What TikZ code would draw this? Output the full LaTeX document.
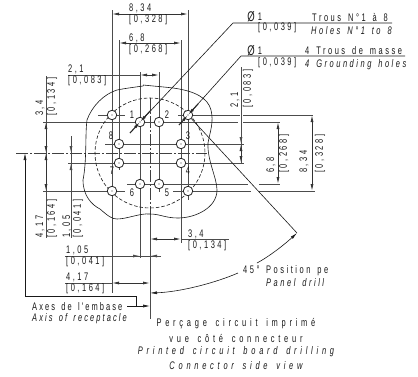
\documentclass[tikz,border=0pt]{standalone}
\usepackage{fontspec}
\setmainfont[FakeStretch=0.68,LetterSpace=23,WordSpace=1.5]{Liberation Sans}
\newfontfamily\titlefont[FakeStretch=0.68,LetterSpace=34,WordSpace=1.5]{Liberation Sans}
\newfontfamily\axisfont[FakeStretch=0.68,LetterSpace=19,WordSpace=1.5]{Liberation Sans}
\usetikzlibrary{positioning,arrows.meta}
\begin{document}
\begin{tikzpicture}[x=1pt,y=-1pt,
  every node/.style={font=\fontsize{11pt}{12pt}\selectfont, inner sep=0pt, text=black!90},
  holemark/.style={circle, draw=black!85, fill=white, line width=0.8pt, minimum size=9.5pt},
  ext/.style={draw=black!70, line width=0.9pt},
  dim/.style={draw=black!80, line width=0.8pt, {Latex[length=7pt,width=3pt]}-{Latex[length=7pt,width=3pt]}},
  thinline/.style={draw=black!90, line width=0.6pt},
  axisline/.style={draw=black!75, line width=0.8pt, dash pattern=on 12pt off 2pt on 2pt off 2pt},
  num/.style={anchor=west},
  vnum/.style={rotate=90, anchor=west},
  tip/.style={-{Latex[length=7pt,width=3pt]}}]
\useasboundingbox (0,0) rectangle (418,376);

% extension lines, vertical
\draw[ext] (112,10) -- (112,293);
\draw[ext] (188,10) -- (188,200);
\draw[ext] (119,40) -- (119,170);
\draw[ext] (181,40) -- (181,243);
\draw[ext] (140,72) -- (140,258);
\draw[ext] (159,72) -- (159,192);

% extension lines, horizontal
\draw[ext] (98,115) -- (125,115);
\draw[ext] (178,115) -- (240,115);
\draw[ext] (243,115) -- (313,115);
\draw[ext] (43,122) -- (238,122);
\draw[ext] (243,122) -- (280,122);
\draw[ext] (105,144) -- (244,144);
\draw[ext] (68,163) -- (244,163);
\draw[ext] (127,184) -- (248,184);
\draw[ext] (259,184) -- (280,184);
\draw[ext] (43,191) -- (125,191);
\draw[ext] (173,191) -- (251,191);
\draw[ext] (259,191) -- (315,191);

% axes
\draw[axisline] (16,153) -- (207,153);
\draw[axisline] (150,98) -- (150,215);
\draw[ext] (150,215) -- (150,319);

% outline and drill circle
\draw[thinline] (143,86) .. controls (128,88) and (122,89) .. (117,90)
  .. controls (104,94) and (92,106) .. (87,120)
  .. controls (85,135) and (87,160) .. (83,180)
  .. controls (83,196) and (92,205) .. (100,209)
  .. controls (108,216) and (112,219) .. (117,219)
  .. controls (127,219) and (140,213) .. (150,214)
  .. controls (160,214) and (165,218) .. (178,218)
  .. controls (195,218) and (217,208) .. (217,190)
  .. controls (217,178) and (207,160) .. (208,143)
  .. controls (210,132) and (214,122) .. (211,110)
  .. controls (208,98) and (195,91) .. (173,88)
  .. controls (165,87) and (152,86) .. (143.5,85)
  -- cycle;
\draw[thinline, dash pattern=on 3.5pt off 2pt] (150,153) circle[radius=55];

% holes
\foreach \nam/\xx/\yy in {g1/112/115,g2/188/115,g3/188/191,g4/112/191,
  h1/140/122,h2/159/122,h3/181/144,h4/181/163,h5/159/184,h6/140/184,h7/119/163,h8/119/144}
  {\node[holemark] (\nam) at (\xx,\yy) {};
   \fill[black!80] (\nam) circle[radius=0.7];}

% hole numbers
\node at (132,115) {1};
\node at (167,115) {2};
\node at (188,136) {3};
\node at (188,171) {4};
\node at (167,193) {5};
\node at (132,193) {6};
\node at (112,171) {7};
\node at (111,136) {8};

% top dimensions
\draw[dim] (112,14) -- (188,14);
\node[num] at (129,8) {8,34};
\node[num] at (129,20) {[0,328]};
\draw[dim] (119,43) -- (181,43);
\node[num] at (129,38) {6,8};
\node[num] at (129,50) {[0,268]};
\draw[ext] (68,75) -- (140,75);
\draw[dim] (140,75) -- (159,75);
\node[num] at (68,69) {2,1};
\node[num] at (68,81) {[0,083]};

% left dimensions
\draw[ext] (46,76) -- (46,238);
\draw[dim] (46,122) -- (46,153);
\draw[dim] (46,191) -- (46,153);
\node[vnum] at (40,116) {3,4};
\node[vnum] at (52,116) {[0,134]};
\node[vnum] at (40,238) {4,17};
\node[vnum] at (52,238) {[0,164]};
\draw[ext] (71,142) -- (71,238);
\draw[ext,tip] (71,136) -- (71,153);
\draw[ext,tip] (71,180) -- (71,163);
\node[vnum] at (67,238) {1,05};
\node[vnum] at (78,238) {[0,041]};

% bottom dimensions
\draw[dim] (150,239) -- (181,239);
\draw[ext] (181,239) -- (229,239);
\node[num] at (188,234) {3,4};
\node[num] at (188,246) {[0,134]};
\draw[ext] (65,256) -- (161,256);
\draw[ext,tip] (125,256) -- (140,256);
\draw[ext,tip] (161,256) -- (150,256);
\node[num] at (66,250) {1,05};
\node[num] at (66,262) {[0,041]};
\draw[ext] (65,283) -- (112,283);
\draw[dim] (112,283) -- (150,283);
\node[num] at (66,277) {4,17};
\node[num] at (66,289) {[0,164]};

% right dimensions
\draw[ext] (241,67) -- (241,163);
\draw[ext,tip] (241,128) -- (241,144);
\draw[dim] (241,163) -- (241,144);
\node[vnum] at (235,108) {2,1};
\node[vnum] at (248,108) {[0,083]};
\draw[dim] (278,122) -- (278,184);
\node[vnum] at (271,173) {6,8};
\node[vnum] at (284,173) {[0,268]};
\draw[dim] (312,115) -- (312,191);
\node[vnum] at (304,173) {8,34};
\node[vnum] at (320,173) {[0,328]};

% axis of receptacle
\draw[thinline,tip] (25,296) -- (25,153);
\draw[thinline] (25,296) -- (136,296) -- (136,306);
\draw[thinline,tip] (127,306) -- (150,306);
\node[num] at (32,307) {\axisfont Axes de l'embase};
\node[num] at (32,319) {\axisfont\itshape Axis of receptacle};

% drill leaders
\coordinate (leadA) at (233,23);
\coordinate (leadB) at (241,56);
\draw[thinline] (h1) -- (leadA) -- (392,23);
\draw[line width=1.1pt,black!85,tip] (130,133) -- (h1.center);
\draw[line width=1.1pt,black!85,tip] (151,110) -- (h1.center);
\draw[thinline] (g2) -- (leadB) -- (405,56);
\draw[line width=1.1pt,black!85,tip] (179,125) -- (g2.center);
\draw[line width=1.1pt,black!85,tip] (198,104) -- (g2.center);
\node[font=\fontsize{14pt}{14pt}\selectfont] at (251,17) {Ø};
\node at (260,17) {1};
\node[num] at (258,28) {[0,039]};
\node[num] at (312,17) {Trous N°1 à 8};
\node[num] at (311,31) {\itshape Holes N°1 to 8};
\node[font=\fontsize{14pt}{14pt}\selectfont] at (251,51) {Ø};
\node at (260,51) {1};
\node[num] at (258,63) {[0,039]};
\node[num] at (305,51) {4 Trous de masse};
\node[num] at (305,65) {\itshape 4 Grounding holes};

% 45 degree position
\draw[thinline] (g2) -- (297,233);
\draw[thinline,{Latex[length=7pt,width=3pt]}-] (150,293) .. controls (180,292) and (215,283) .. (238,273);
\draw[thinline,-{Latex[length=7pt,width=3pt]}] (257,263) .. controls (270,256) and (285,244) .. (297,233);
\node[num] at (243,270) {45°};
\node[num] at (266,271) {Position pe};
\node[num] at (266,283) {\itshape Panel drill};

% title
\node at (236,324) {\titlefont Perçage circuit imprimé};
\node at (236,338) {\titlefont vue côté connecteur};
\node at (236,352) {\titlefont\itshape Printed circuit board drilling};
\node at (236,366) {\titlefont\itshape Connector side view};
\end{tikzpicture}
\end{document}
